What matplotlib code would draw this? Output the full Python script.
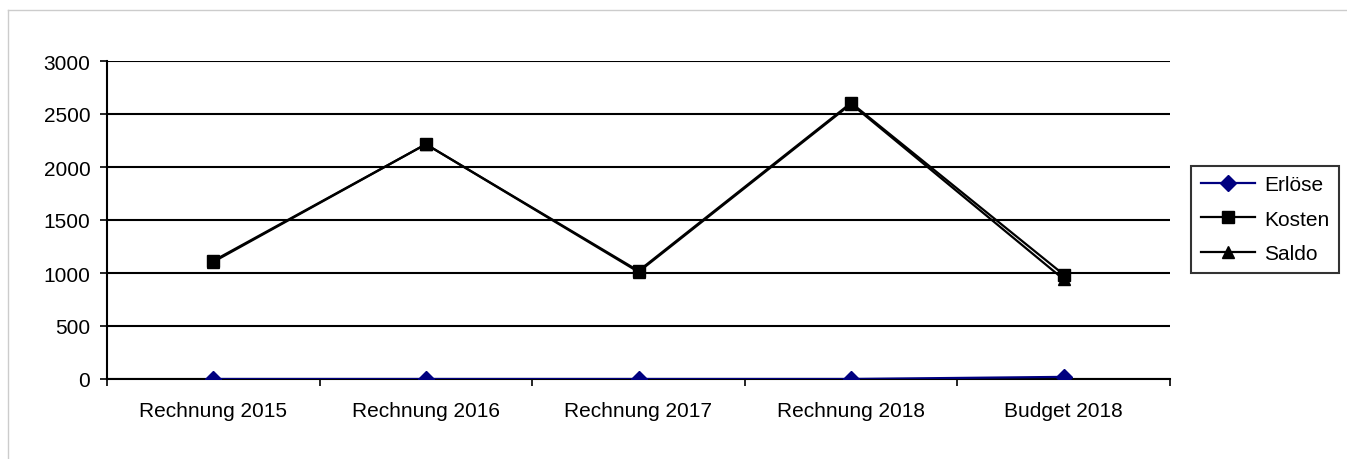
import matplotlib
matplotlib.use("Agg")
import matplotlib.pyplot as plt
from matplotlib.lines import Line2D

plt.rcParams["font.family"] = ["Liberation Sans", "DejaVu Sans"]
plt.rcParams["font.size"] = 15

# Chart data
categories = ["Rechnung 2015", "Rechnung 2016", "Rechnung 2017", "Rechnung 2018", "Budget 2018"]
erloese = [0, 0, 0, 0, 20]
kosten = [1115, 2215, 1020, 2605, 985]
saldo = [1105, 2215, 1010, 2595, 940]
y_ticks = [0, 500, 1000, 1500, 2000, 2500, 3000]

fig = plt.figure(figsize=(13.47, 4.6), dpi=100)
ax = fig.add_axes([107 / 1347, 80 / 460, 1063 / 1347, 318 / 460])

x = range(len(categories))
ax.plot(x, erloese, color="#000080", marker="D", markersize=8, lw=1.6, label="Erlöse", zorder=3)
ax.plot(x, kosten, color="black", marker="s", markersize=9, lw=1.6, label="Kosten", zorder=3)
ax.plot(x, saldo, color="black", marker="^", markersize=9, lw=1.6, label="Saldo", zorder=3)

ax.set_xlim(-0.5, len(categories) - 0.5)
ax.set_ylim(0, 3000)
ax.set_yticks(y_ticks)
ax.yaxis.grid(True, color="black", lw=1.5)
ax.set_axisbelow(True)

ax.set_xticks(list(x))
ax.set_xticklabels(categories)
ax.set_xticks([i - 0.5 for i in range(len(categories) + 1)], minor=True)
ax.tick_params(axis="x", which="major", length=0, pad=16)
ax.tick_params(axis="x", which="minor", length=5, width=1.2, direction="out")
ax.tick_params(axis="y", length=5, width=1.2, direction="out", pad=7)

for side in ["top", "right"]:
    ax.spines[side].set_visible(False)
for side in ["left", "bottom"]:
    ax.spines[side].set_linewidth(1.5)

leg = ax.legend(loc="center left", bbox_to_anchor=(1.02, 0.503), frameon=True, fancybox=False,
                edgecolor="black", handlelength=2.6, labelspacing=0.75, borderpad=0.45,
                borderaxespad=0, handletextpad=0.45, fontsize=15)
leg.get_frame().set_linewidth(1.5)

# light grey outer chart border
fig.add_artist(Line2D([8 / 1347, 8 / 1347], [0, 1 - 11 / 460], color="#cccccc", lw=1, transform=fig.transFigure))
fig.add_artist(Line2D([8 / 1347, 1], [1 - 11 / 460, 1 - 11 / 460], color="#cccccc", lw=1, transform=fig.transFigure))

fig.savefig("out.png", dpi=100)
